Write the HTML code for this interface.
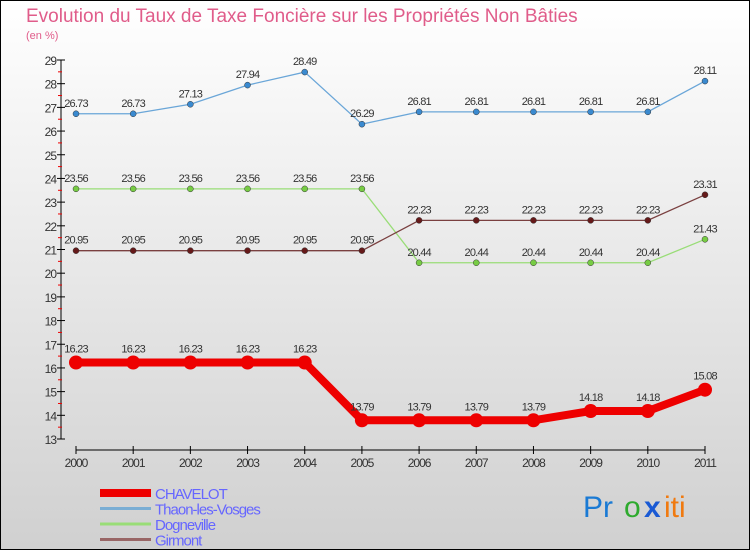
<!DOCTYPE html>
<html><head><meta charset="utf-8"><style>
body{margin:0;}
svg text{font-family:"Liberation Sans",sans-serif;}
</style></head><body>
<svg width="750" height="550" xmlns="http://www.w3.org/2000/svg">
<defs><linearGradient id="bg" x1="0" y1="0" x2="0" y2="1"><stop offset="0" stop-color="#ffffff"/><stop offset="1" stop-color="#d0d0d0"/></linearGradient></defs>
<rect x="0.5" y="0.5" width="749" height="549" fill="url(#bg)" stroke="#000"/>
<text x="26" y="22" font-size="19" fill="#e05c8a">Evolution du Taux de Taxe Foncière sur les Propriétés Non Bâties</text>
<text x="26" y="39" font-size="11" fill="#e05c8a">(en %)</text>
<g id="axes"></g><g id="series"></g><g id="legend"></g>
<g font-size="30" font-family="'DejaVu Sans',sans-serif">
<text x="583" y="517" fill="#1a7ad4">Pr</text><text x="624" y="517" fill="#2eaa2e">o</text><text x="644" y="517" fill="#1a5ad4" font-weight="bold">x</text><text x="664" y="517" fill="#f07a10">iti</text>
</g>
</svg>
<script>
const years=["2000","2001","2002","2003","2004","2005","2006","2007","2008","2009","2010","2011"];
const yTicks=[13,14,15,16,17,18,19,20,21,22,23,24,25,26,27,28,29];
const chavelot=[16.23,16.23,16.23,16.23,16.23,13.79,13.79,13.79,13.79,14.18,14.18,15.08];
const thaon=[26.73,26.73,27.13,27.94,28.49,26.29,26.81,26.81,26.81,26.81,26.81,28.11];
const dogneville=[23.56,23.56,23.56,23.56,23.56,23.56,20.44,20.44,20.44,20.44,20.44,21.43];
const girmont=[20.95,20.95,20.95,20.95,20.95,20.95,22.23,22.23,22.23,22.23,22.23,23.31];
const NS="http://www.w3.org/2000/svg";
const X=i=>76+i*(705-76)/11;
const Y=v=>439-(v-13)*(439-60)/16;
function mk(t,a,p,txt){const e=document.createElementNS(NS,t);for(const k in a)e.setAttribute(k,a[k]);if(txt!==undefined)e.textContent=txt;p.appendChild(e);return e;}
const ax=document.getElementById('axes');
let l=mk('line',{x1:61,y1:60,x2:61,y2:439,stroke:'#000'},ax);


yTicks.forEach(v=>{
 mk('line',{x1:57,y1:Y(v),x2:65,y2:Y(v),stroke:'#000'},ax);
 if(v<29)mk('line',{x1:58,y1:Y(v+0.5),x2:62,y2:Y(v+0.5),stroke:'#e00'},ax);
 const t=mk('text',{x:56,y:Y(v)+5,'font-size':12,'text-anchor':'end',fill:'#333','letter-spacing':'-1'},ax,String(v));
 
 
});
l=mk('line',{x1:76,y1:450,x2:705,y2:450,stroke:'#000'},ax);


years.forEach((y,i)=>{
 mk('line',{x1:X(i),y1:446,x2:X(i),y2:454,stroke:'#000'},ax);
 const t=mk('text',{x:X(i),y:467,'font-size':12,'text-anchor':'middle',fill:'#333','letter-spacing':'-1'},ax,y);
 
 
});
const sg=document.getElementById('series');
function series(name,vals,color,w,r,dot){
 const g=mk('g',{},sg);
 
 
 const p=mk('polyline',{points:vals.map((v,i)=>X(i)+','+Y(v)).join(' '),fill:'none',stroke:color,'stroke-width':w},g);
 
 
 vals.forEach((v,i)=>{
  const c=mk('circle',{cx:X(i),cy:Y(v),r:r,fill:dot,stroke:'#333','stroke-width':r>5?0:0.5},g);
  
  
  const t=mk('text',{x:X(i),y:Y(v)-(r>5?10:7),'font-size':11,'text-anchor':'middle',fill:'#333','letter-spacing':'-0.8'},g,v.toFixed(2));
  
  
 });
}
series('thaon',thaon,'#6aa6d8',1.3,3,'#3a8ad0');
series('dogneville',dogneville,'#99dd77',1.3,3,'#77cc44');
series('girmont',girmont,'#7a4040',1.3,3,'#661a1a');
series('chavelot',chavelot,'#ee0000',8,7,'#ee0000');
const lg=document.getElementById('legend');
const leg=[['CHAVELOT','#ee0000',8],['Thaon-les-Vosges','#7aaed4',3],['Dogneville','#99dd77',3],['Girmont','#996666',3]];
leg.forEach((d,i)=>{
 const y=493+i*15.5;
 const g=mk('g',{},lg);
 
 
 mk('line',{x1:100,y1:y,x2:151,y2:y,stroke:d[1],'stroke-width':d[2]},g);
 mk('text',{x:155,y:y+6,'font-size':15,fill:'#6666ff','letter-spacing':'-1'},g,d[0]);
});
</script>
</body></html>
